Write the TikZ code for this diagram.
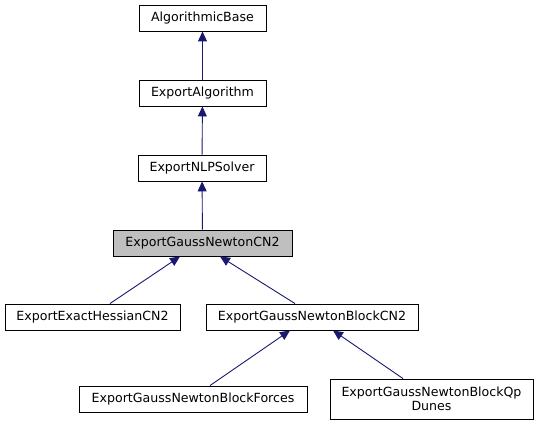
\documentclass[tikz,border=0pt]{standalone}
\usepackage{fontspec}
\setmainfont{DejaVu Sans}
\usetikzlibrary{arrows.meta}

\begin{document}
\begin{tikzpicture}[x=1pt,y=-1pt,>={Triangle[length=10pt,width=9pt]}]
 \tikzstyle{classnode} = [draw=black,line width=0.9pt,fill=white,inner sep=0,
   minimum height=26pt,align=center,font=\fontsize{12.6}{14.5}\selectfont]
 \tikzstyle{current} = [fill=black!25]
 \tikzstyle{inherit} = [<-,draw={rgb,255:red,25;green,25;blue,112},line width=0.9pt]
 \useasboundingbox (0,0) rectangle (539,425);

% Classes
 \node[classnode,minimum width=127pt] (base) at (202.5,18) {AlgorithmicBase};
 \node[classnode,minimum width=127pt] (alg) at (202.5,93) {ExportAlgorithm};
 \node[classnode,minimum width=128pt] (nlp) at (202,168) {ExportNLPSolver};
 \node[classnode,current,minimum width=179pt] (gncn2) at (202.5,243) {ExportGaussNewtonCN2};
 \node[classnode,minimum width=175pt] (hess) at (92.5,317) {ExportExactHessianCN2};
 \node[classnode,minimum width=212pt] (block) at (312,317) {ExportGaussNewtonBlockCN2};
 \node[classnode,minimum width=228pt] (forces) at (193,399) {ExportGaussNewtonBlockForces};
 \node[classnode,minimum width=203pt,minimum height=40pt] (qp) at (431.5,399) {ExportGaussNewtonBlockQp\\Dunes};

% Inheritance
 \draw[inherit] (base) -- (alg);
 \draw[inherit] (alg) -- (nlp);
 \draw[inherit] (nlp) -- (gncn2);
 \draw[inherit] ([xshift=-22.5pt]gncn2.south) -- ([xshift=17.5pt]hess.north);
 \draw[inherit] ([xshift=17.5pt]gncn2.south) -- ([xshift=-17pt]block.north);
 \draw[inherit] ([xshift=-22pt]block.south) -- ([xshift=17pt]forces.north);
 \draw[inherit] ([xshift=21pt]block.south) -- ([xshift=-28.5pt]qp.north);
\end{tikzpicture}
\end{document}
